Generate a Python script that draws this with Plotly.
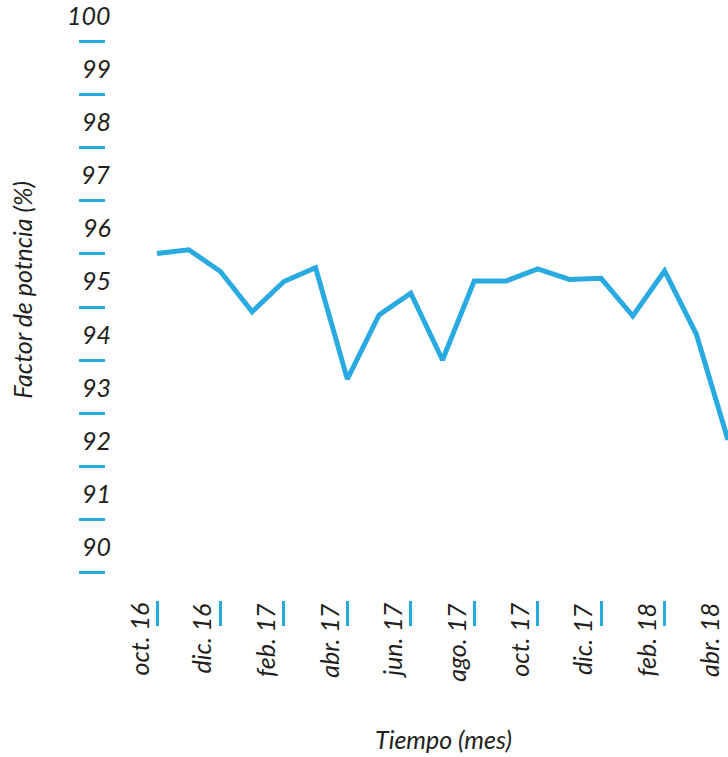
import plotly.graph_objects as go

months = ["oct. 16", "nov. 16", "dic. 16", "ene. 17", "feb. 17", "mar. 17", "abr. 17",
          "may. 17", "jun. 17", "jul. 17", "ago. 17", "sep. 17", "oct. 17", "nov. 17",
          "dic. 17", "ene. 18", "feb. 18", "mar. 18", "abr. 18"]
factor = [96.01, 96.08, 95.67, 94.91, 95.48, 95.74, 93.64, 94.85, 95.26, 94.00,
          95.49, 95.49, 95.72, 95.52, 95.54, 94.83, 95.68, 94.49, 92.49]
label_months = months[::2]
tick_months = label_months[:-1]
y_ticks = list(range(90, 101))

BLUE = "#29abe2"
TXT = "#231f20"
FONT = "Lato"

fig = go.Figure()
fig.add_trace(go.Scatter(x=months, y=factor, mode="lines",
                         line=dict(color=BLUE, width=5), showlegend=False,
                         cliponaxis=True))

annots = []
for v in y_ticks:
    annots.append(dict(x=0, xref="paper", y=v + 0.5, yref="y", text=str(v),
                       showarrow=False, xanchor="right", yanchor="middle", xshift=7,
                       font=dict(family=FONT, size=25, color=TXT, style="italic")))
for m in label_months:
    annots.append(dict(x=m, xref="x", y=0, yref="paper", text=m, textangle=-90,
                       showarrow=False, xanchor="center", yanchor="top", xshift=-19, yshift=-1,
                       font=dict(family=FONT, size=25, color=TXT, style="italic")))
annots.append(dict(x=0.542, xref="paper", y=-0.232, yref="paper", text="Tiempo (mes)",
                   showarrow=False, xanchor="center", yanchor="middle",
                   font=dict(family=FONT, size=25, color=TXT, style="italic")))
annots.append(dict(x=-0.135, xref="paper", y=0.517, yref="paper", text="Factor de potncia (%)",
                   textangle=-90, showarrow=False, xanchor="center", yanchor="middle",
                   font=dict(family=FONT, size=25, color=TXT, style="italic")))

fig.update_layout(
    width=728, height=757,
    margin=dict(l=106, r=0, t=0, b=157),
    paper_bgcolor="white", plot_bgcolor="white",
    xaxis=dict(type="category", range=[-(157 - 106) / 31.72, 18],
               tickmode="array", tickvals=tick_months, ticktext=[""] * len(tick_months),
               ticks="outside", ticklen=25, tickwidth=3, tickcolor=BLUE,
               showgrid=False, zeroline=False, showline=False),
    yaxis=dict(range=[89.472, 100.792], tickmode="array", tickvals=y_ticks,
               ticktext=[""] * len(y_ticks), ticks="outside", ticklen=26, tickwidth=3,
               tickcolor=BLUE, showgrid=False, zeroline=False, showline=False),
    annotations=annots,
)

fig.write_html("out.html", config={"displayModeBar": False},
               post_script="document.body.style.margin='0';document.body.style.overflow='hidden';")
